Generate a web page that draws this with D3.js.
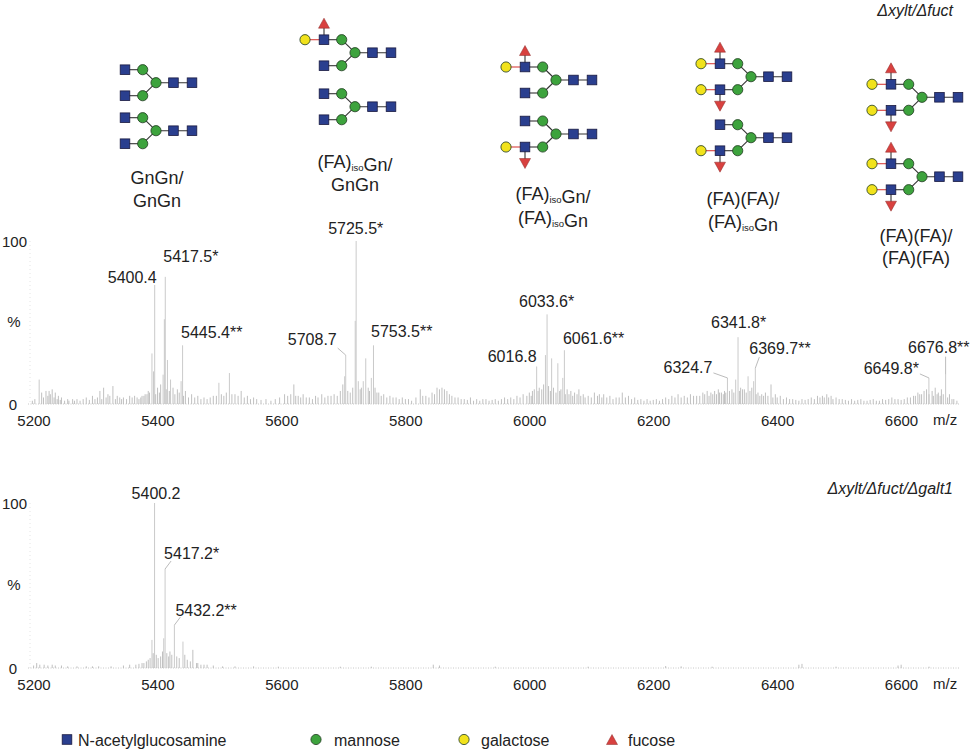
<!DOCTYPE html>
<html>
<head>
<meta charset="utf-8">
<script src="https://cdn.jsdelivr.net/npm/d3@7"></script>
<style>
  body { margin: 0; background: #fff; }
  svg { font-family: "Liberation Sans", Arial, sans-serif; }
</style>
</head>
<body>
<svg id="chart" width="975" height="750"></svg>
<script>
// m/z ticks shared by both spectra
const mzTicks = [5200, 5400, 5600, 5800, 6000, 6200, 6400, 6600];

// labelled peaks [m/z, relative intensity %, label]
const topLabelled = [
  [5400.4, 73, "5400.4"], [5417.5, 78, "5417.5*"], [5445.4, 36, "5445.4**"],
  [5708.7, 30, "5708.7"], [5725.5, 100, "5725.5*"], [5753.5, 36, "5753.5**"],
  [6016.8, 23, "6016.8"], [6033.6, 55, "6033.6*"], [6061.6, 33, "6061.6**"],
  [6324.7, 16, "6324.7"], [6341.8, 41, "6341.8*"], [6369.7, 22, "6369.7**"],
  [6649.8, 16, "6649.8*"], [6676.8, 18, "6676.8**"]
];
const bottomLabelled = [
  [5400.2, 100, "5400.2"], [5417.2, 60, "5417.2*"], [5432.2, 26, "5432.2**"]
];

// other sticks of the Δxylt/Δfuct spectrum [m/z, %]
const topPeaks = [
  [5214, 15], [5218, 7], [5225, 8], [5230, 8], [5235, 9], [5240, 7], [5245, 5], [5250, 4],
  [5260, 3], [5275, 3], [5290, 4], [5300, 5], [5312, 8], [5318, 10], [5325, 6], [5333, 11],
  [5340, 5], [5350, 4], [5360, 5], [5372, 4], [5380, 5], [5385, 6], [5390, 8], [5396, 31],
  [5398.5, 20], [5405, 10], [5410, 12], [5414, 18], [5416, 52], [5421, 27], [5426, 15],
  [5430, 10], [5437, 9], [5443, 14], [5450, 8], [5460, 6], [5470, 5], [5480, 4],
  [5504, 13], [5521, 19], [5530, 6], [5540, 8], [5550, 5], [5560, 4],
  [5610, 6], [5625, 12], [5632, 5], [5640, 6], [5650, 4], [5660, 5], [5670, 6], [5680, 5],
  [5690, 6], [5700, 8], [5704, 12], [5707, 17], [5712, 8], [5720, 10], [5724, 51], [5729, 14],
  [5734, 10], [5737, 14], [5741, 28], [5745, 10], [5750, 16], [5756, 10], [5762, 7], [5770, 6],
  [5780, 5], [5790, 4], [5800, 4], [5810, 3], [5829, 9], [5838, 5], [5848, 7], [5856, 10],
  [5860, 9], [5864, 10], [5868, 9], [5872, 8], [5880, 5], [5890, 4], [5900, 3], [5910, 4],
  [5920, 3], [5935, 3], [5950, 3], [5965, 4], [5975, 4], [5985, 5], [5995, 6], [6001, 5],
  [6005, 7], [6010, 8], [6013, 9], [6021, 10], [6025, 9], [6028, 12], [6031, 30], [6036, 11],
  [6041, 28], [6044, 10], [6051, 25], [6056, 9], [6059, 16], [6066, 9], [6072, 8], [6078, 7],
  [6085, 9], [6092, 6], [6100, 5], [6110, 7], [6118, 6], [6125, 6], [6135, 5], [6145, 4],
  [6155, 7], [6165, 5], [6175, 4], [6185, 3], [6195, 3], [6210, 3], [6225, 4], [6235, 5],
  [6245, 6], [6255, 5], [6265, 6], [6275, 5], [6285, 7], [6292, 8], [6298, 7], [6304, 8],
  [6310, 9], [6315, 7], [6320, 8], [6338, 15], [6346, 10], [6349, 9], [6352, 9], [6358, 17],
  [6364, 10], [6367, 14], [6374, 7], [6380, 6], [6386, 7], [6395, 12], [6402, 6], [6410, 5],
  [6420, 4], [6430, 3], [6445, 3], [6460, 4], [6470, 5], [6478, 5], [6485, 6], [6492, 5],
  [6500, 4], [6510, 3], [6525, 3], [6540, 3], [6560, 3], [6575, 3], [6590, 4], [6600, 3],
  [6615, 4], [6625, 5], [6632, 7], [6638, 6], [6642, 8], [6646, 9], [6655, 8], [6660, 10],
  [6665, 7], [6670, 9], [6683, 6], [6690, 3]
];
const topNoise = [
  [5203, 2], [5207, 3], [5221, 4], [5228, 5], [5232, 6], [5238, 4], [5243, 3], [5248, 2.5],
  [5255, 2], [5262, 2], [5268, 3], [5271, 2], [5280, 2], [5285, 3], [5295, 2.5], [5304, 3],
  [5308, 4], [5315, 3], [5322, 4], [5328, 5], [5337, 3], [5344, 4], [5347, 3], [5355, 3],
  [5364, 4], [5368, 5], [5375, 3], [5378, 4], [5383, 5], [5388, 6], [5392, 7], [5402, 6],
  [5408, 7], [5419, 9], [5424, 8], [5433, 6], [5440, 7], [5447, 5], [5455, 4], [5465, 4],
  [5475, 3], [5485, 3], [5490, 4], [5495, 5], [5500, 5], [5508, 6], [5512, 5], [5516, 7],
  [5525, 6], [5535, 5], [5545, 4], [5555, 3], [5565, 3], [5572, 2.5], [5580, 3], [5588, 2],
  [5595, 3], [5602, 4], [5615, 5], [5620, 6], [5628, 5], [5636, 4], [5645, 4], [5655, 3],
  [5664, 4], [5675, 4], [5685, 5], [5695, 5], [5716, 7], [5732, 9], [5747, 8], [5759, 7],
  [5766, 5], [5775, 4], [5785, 4], [5795, 3], [5805, 3], [5815, 2], [5822, 4], [5833, 5],
  [5843, 4], [5852, 6], [5876, 6], [5885, 4], [5895, 3], [5905, 2.5], [5915, 2], [5925, 2],
  [5930, 3], [5940, 2], [5945, 2.5], [5955, 2], [5960, 3], [5970, 3], [5980, 3], [5990, 4],
  [6008, 5], [6019, 8], [6039, 8], [6048, 7], [6054, 8], [6063, 6], [6069, 6], [6075, 5],
  [6082, 6], [6088, 5], [6095, 4], [6105, 4], [6115, 5], [6122, 4], [6130, 4], [6140, 3],
  [6150, 4], [6160, 4], [6170, 3], [6180, 2.5], [6190, 2], [6200, 2], [6205, 2.5], [6215, 2],
  [6220, 3], [6230, 3], [6240, 4], [6250, 4], [6260, 4], [6270, 5], [6280, 5], [6288, 6],
  [6295, 5], [6301, 6], [6307, 6], [6312, 7], [6318, 6], [6322, 7], [6328, 8], [6332, 9],
  [6335, 7], [6344, 8], [6355, 7], [6361, 8], [6371, 6], [6377, 5], [6383, 5], [6390, 5],
  [6398, 4], [6405, 4], [6415, 3], [6425, 3], [6435, 2.5], [6440, 2], [6450, 2.5], [6455, 3],
  [6465, 3], [6474, 4], [6481, 4], [6488, 4], [6495, 3], [6505, 3], [6515, 2.5], [6520, 2],
  [6530, 2], [6535, 2.5], [6545, 2], [6550, 2], [6555, 2.5], [6565, 2], [6570, 2], [6580, 2.5],
  [6585, 3], [6595, 3], [6605, 2.5], [6610, 3], [6620, 4], [6628, 5], [6635, 6], [6650, 6],
  [6657, 5], [6663, 6], [6668, 5], [6673, 6], [6680, 4], [6687, 3], [6695, 2]
];

// other sticks of the Δxylt/Δfuct/Δgalt1 spectrum [m/z, %]
const bottomPeaks = [
  [5387, 4], [5393, 6], [5396, 17], [5398, 9], [5403, 8], [5406, 6], [5410, 7], [5413, 10],
  [5415, 18], [5420, 9], [5423, 7], [5425, 10], [5428, 8], [5436, 7], [5440, 6], [5446, 16],
  [5449, 8], [5453, 5], [5458, 4], [5462, 11], [5468, 3], [5475, 2], [5485, 2],
  [5205, 1.5], [5210, 3], [5215, 2], [5222, 2], [5228, 1.5], [5235, 2], [5240, 1.5], [5250, 1.5],
  [5260, 1], [5275, 1], [5290, 1], [5300, 1], [5310, 1], [5330, 1], [5350, 1.5], [5360, 2],
  [5370, 2], [5375, 2.5], [5380, 3], [5383, 3], [5390, 5], [5470, 3], [5480, 2], [5495, 1.5],
  [5510, 1], [5530, 1], [5560, 1], [5600, 0.8], [5700, 0.8], [5750, 0.8], [5850, 2], [5860, 1.5],
  [5950, 0.8], [6100, 0.8], [6225, 1.2], [6250, 1], [6300, 0.8], [6440, 2], [6445, 2.5],
  [6500, 0.8], [6600, 1.5], [6605, 2], [6650, 0.8]
];

// glycan structures: names (two lines, _iso_ = subscript) and antennae [upper, lower] per N-glycan
const glycanNames = [
  ["GnGn/", "GnGn"],
  ["(FA)_iso_Gn/", "GnGn"],
  ["(FA)_iso_Gn/", "(FA)_iso_Gn"],
  ["(FA)(FA)/", "(FA)_iso_Gn"],
  ["(FA)(FA)/", "(FA)(FA)"]
];
const glycanAntennae = [
  [["Gn", "Gn"], ["Gn", "Gn"]],
  [["FA", "Gn"], ["Gn", "Gn"]],
  [["FA", "Gn"], ["Gn", "FA"]],
  [["FA", "FA"], ["Gn", "FA"]],
  [["FA", "FA"], ["FA", "FA"]]
];
const legendItems = ["N-acetylglucosamine", "mannose", "galactose", "fucose"];
const legendShapes = ["GlcNAc", "Man", "Gal", "Fuc"];

// ---------------------------------------------------------------
const svg = d3.select("#chart");
const colors = { GlcNAc: "#2a3f8f", Man: "#3da33d", Gal: "#f1e21c", Fuc: "#d8413f" };
const stick = "#b9b9b9";

const x = d3.scaleLinear().domain([5200, 6700]).range([30.5, 960]);
const panels = [
  { y: d3.scaleLinear().domain([0, 100]).range([404, 241]), peaks: topNoise.concat(topPeaks), labelled: topLabelled,
    title: "Δxylt/Δfuct", titleY: 10 },
  { y: d3.scaleLinear().domain([0, 100]).range([668, 503]), peaks: bottomPeaks, labelled: bottomLabelled,
    title: "Δxylt/Δfuct/Δgalt1", titleY: 488 }
];

// label placement relative to peak top: anchor, dx, dy (text centre), leader line
const labelLayout = {
  "5400.4": ["end", 2, -8], "5417.5*": ["start", -2, -21], "5445.4**": ["start", -1.5, -13],
  "5708.7": ["end", -9, -16, [-8, -7]], "5725.5*": ["start", -28, -13], "5753.5**": ["start", -2.5, -14],
  "6016.8": ["end", 0, -10], "6033.6*": ["start", -28, -13], "6061.6**": ["start", -1.5, -12],
  "6324.7": ["end", -15, -11, [-14, -5]], "6341.8*": ["start", -27, -15], "6369.7**": ["start", -6, -20, [4, -11]],
  "6649.8*": ["end", -10, -10, [-9, -4]], "6676.8**": ["start", -37.5, -27, [0, -18]],
  "5400.2": ["middle", 1.5, -10], "5417.2*": ["start", -1, -16, [6, -8]], "5432.2**": ["start", 1, -15, [6, -8]]
};

panels.forEach(p => {
  const g = svg.append("g");
  const y = p.y;

  // faint dotted frame: y axis and baseline
  g.append("line").attr("x1", 30).attr("x2", 30).attr("y1", y(100)).attr("y2", y(0))
    .attr("stroke", "#e4e4e4").attr("stroke-dasharray", "1,3");
  g.append("line").attr("x1", 28).attr("x2", x(6700)).attr("y1", y(0)).attr("y2", y(0))
    .attr("stroke", "#c8c8c8").attr("stroke-dasharray", "1,1.5");

  const all = p.peaks.concat(p.labelled);
  g.append("g").selectAll("line").data(all).join("line")
    .attr("x1", d => x(d[0])).attr("x2", d => x(d[0]))
    .attr("y1", y(0)).attr("y2", d => y(d[1]))
    .attr("stroke", d => d[1] > 12 ? "#c4c4c4" : stick)
    .attr("stroke-width", 0.9);

  // axis labels
  const axis = g.append("g").attr("transform", `translate(0,${y(0)})`)
    .call(d3.axisBottom(x).tickValues(mzTicks).tickSize(0).tickPadding(11).tickFormat(d3.format("d")));
  axis.select(".domain").remove();
  axis.selectAll("text").attr("dx", 3).attr("font-size", 15).attr("fill", "#222")
    .attr("font-family", "'Liberation Sans', Arial, sans-serif");
  g.append("text").attr("x", 933).attr("y", y(0) + 21).attr("font-size", 15).attr("fill", "#222").text("m/z");

  g.append("text").attr("x", 27).attr("y", y(100) + 5.5).attr("text-anchor", "end").attr("font-size", 15).attr("fill", "#222").text("100");
  g.append("text").attr("x", 14).attr("y", y(50) + 4).attr("text-anchor", "middle").attr("font-size", 15).attr("fill", "#222").text("%");
  g.append("text").attr("x", 13).attr("y", y(0) + 5.5).attr("text-anchor", "middle").attr("font-size", 15).attr("fill", "#222").text("0");

  // peak labels
  p.labelled.forEach(d => {
    const [anchor, dx, dy, lead] = labelLayout[d[2]];
    const px = x(d[0]), py = y(d[1]);
    if (lead) {
      g.append("line").attr("x1", px + lead[0]).attr("y1", py + lead[1]).attr("x2", px).attr("y2", py)
        .attr("stroke", "#aaa").attr("stroke-width", 0.8);
    }
    g.append("text").attr("x", px + dx).attr("y", py + dy + 5.8).attr("text-anchor", anchor)
      .attr("font-size", 16).attr("fill", "#222").text(d[2]);
  });

  g.append("text").attr("x", 953).attr("y", p.titleY + 5.5).attr("text-anchor", "end")
    .attr("font-size", 16).attr("font-style", "italic").attr("fill", "#222").text(p.title);
});

// ---------------------------------------------------------------
// glycan symbols
function residue(g, type, cx, cy, down) {
  if (type === "GlcNAc") {
    g.append("rect").attr("x", cx - 4.8).attr("y", cy - 4.8).attr("width", 9.6).attr("height", 9.6)
      .attr("fill", colors.GlcNAc).attr("stroke", "#1a1a40").attr("stroke-width", 0.8);
  } else if (type === "Fuc") {
    const h = 10, w = 11, s = down ? -1 : 1;
    g.append("path")
      .attr("d", `M${cx},${cy - s * h / 2} L${cx + w / 2},${cy + s * h / 2} L${cx - w / 2},${cy + s * h / 2} Z`)
      .attr("fill", colors.Fuc).attr("stroke", "#8a2a28").attr("stroke-width", 0.5);
  } else {
    g.append("circle").attr("cx", cx).attr("cy", cy).attr("r", 5.1)
      .attr("fill", colors[type]).attr("stroke", "#1e3a1e").attr("stroke-width", 0.8);
  }
}
function link(g, x1, y1, x2, y2, col) {
  g.append("line").attr("x1", x1).attr("y1", y1).attr("x2", x2).attr("y2", y2)
    .attr("stroke", col || "#333").attr("stroke-width", 1.1);
}

// core mannose centres of the two N-glycans in each structure, and label centres
const glycanAnchors = [[156, 82.7, 130.7], [355, 52.7, 106.7], [556, 80, 134], [751, 76.7, 137.7], [922, 97.3, 176.7]];
const glycanLabelPos = [[157, 177, 200], [355, 161.5, 184.5], [553, 193, 217], [743, 198.5, 221], [916, 235, 257]];
const step = d3.scaleLinear().domain([0, 1]).range([0, 18]);

glycanAntennae.forEach((structure, i) => {
  const g = svg.append("g");
  const [cx, y1, y2] = glycanAnchors[i];
  [y1, y2].forEach((cy, j) => {
    const ant = structure[j];
    // links first
    link(g, cx, cy, cx + step(2), cy);
    [-1, 1].forEach((side, k) => {
      const ay = cy + side * 13;
      link(g, cx, cy, cx - 13.3, ay);
      link(g, cx - 13.3, ay, cx - 31, ay);
      if (ant[k] === "FA") {
        link(g, cx - 31, ay, cx - 50, ay, "#d8413f");
        link(g, cx - 31, ay, cx - 31, ay + side * 16.5);
      }
    });
    residue(g, "Man", cx, cy);
    residue(g, "GlcNAc", cx + step(0.97), cy);
    residue(g, "GlcNAc", cx + step(2), cy);
    [-1, 1].forEach((side, k) => {
      const ay = cy + side * 13;
      residue(g, "Man", cx - 13.3, ay);
      residue(g, "GlcNAc", cx - 31, ay);
      if (ant[k] === "FA") {
        residue(g, "Gal", cx - 50, ay);
        residue(g, "Fuc", cx - 31, ay + side * 16.5, side > 0);
      }
    });
  });

  const [lx, ly1, ly2] = glycanLabelPos[i];
  [ly1, ly2].forEach((ly, j) => {
    const t = g.append("text").attr("x", lx).attr("y", ly + 6.5).attr("text-anchor", "middle")
      .attr("font-size", 18).attr("fill", "#222");
    glycanNames[i][j].split("_").forEach((part, k) => {
      if (!part) return;
      if (k % 2 === 1) {
        t.append("tspan").attr("font-size", 9.5).attr("dy", 3).text(part);
        t.append("tspan").attr("dy", -3).text("");
      } else {
        t.append("tspan").text(part);
      }
    });
  });
});

// legend
const legendX = [[67, 78], [316, 334], [464, 481], [612, 628]];
const lg = svg.append("g");
legendItems.forEach((name, i) => {
  const [sx, tx] = legendX[i];
  residue(lg, legendShapes[i], sx, 739.5, false);
  lg.append("text").attr("x", tx).attr("y", 745.5).attr("font-size", 16).attr("fill", "#222").text(name);
});
</script>
</body>
</html>
